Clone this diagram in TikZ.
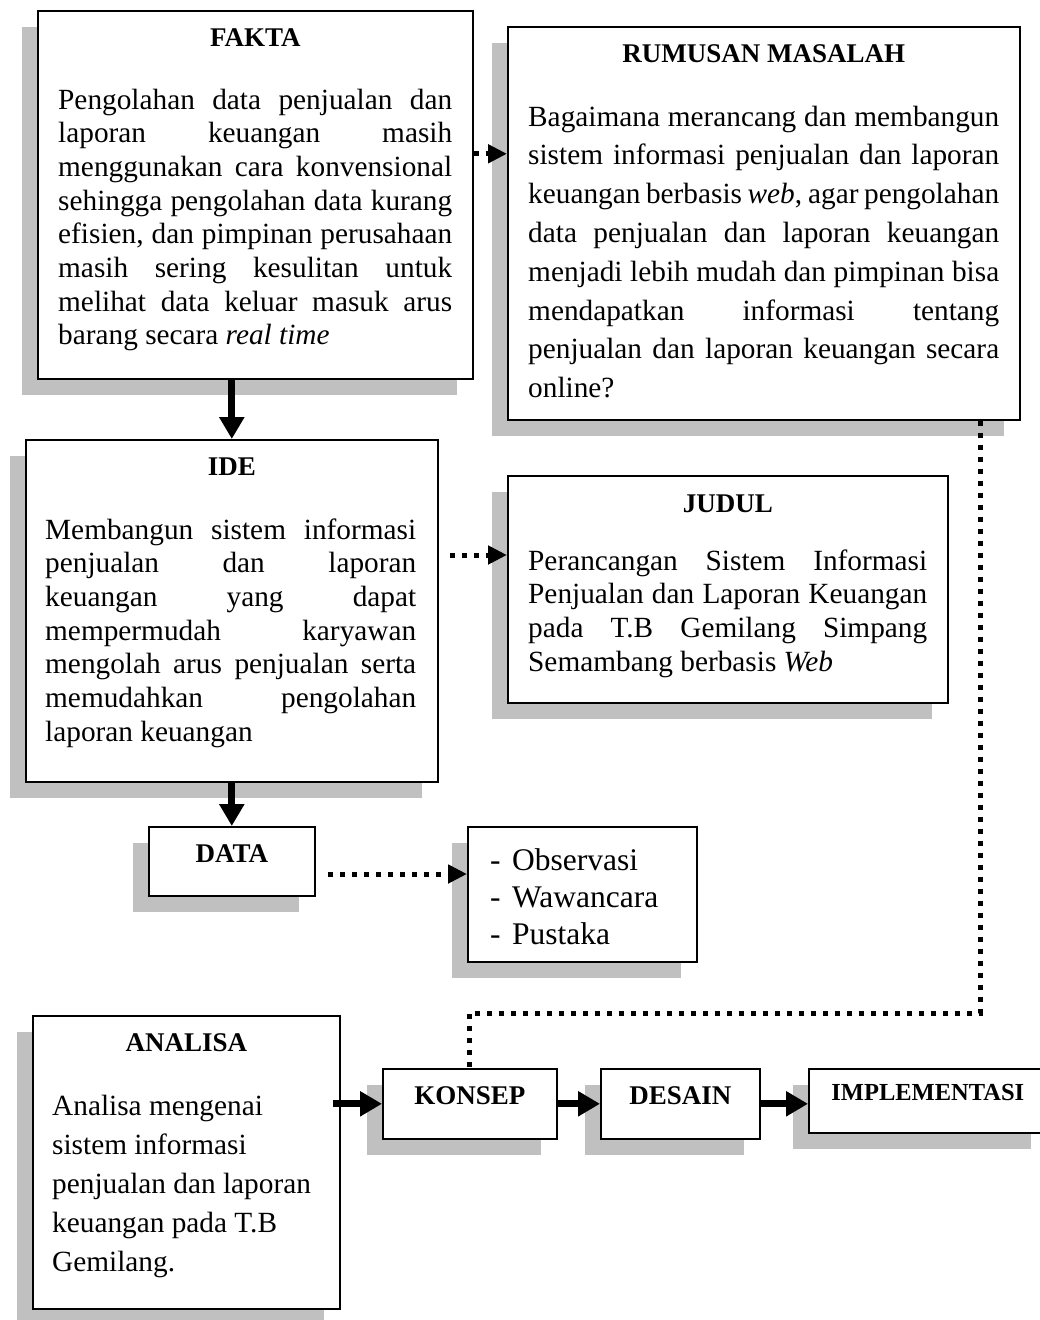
\documentclass[tikz,border=0pt]{standalone}
\usepackage{fontspec}
\setmainfont{Liberation Serif}
\usetikzlibrary{arrows.meta}
\usetikzlibrary{shadows}
\usetikzlibrary{positioning}
\definecolor{bayang}{HTML}{C0C0C0}
\hyphenpenalty=10000
\exhyphenpenalty=10000
\tolerance=10000
\tikzset{
  kotak/.style={draw, line width=1.6pt, fill=white, anchor=north west, inner sep=0pt,
    drop shadow={shadow xshift=-16pt, shadow yshift=-16pt, fill=bayang, opacity=1}},
  judulteks/.style={anchor=base, inner sep=0pt, font=\fontsize{27}{30}\selectfont\bfseries},
  isiteks/.style={anchor=base west, inner sep=0pt, align=justify,
    font=\fontsize{29.3}{33.7}\selectfont},
  panah/.style={line width=7pt, -{Triangle[length=22pt,width=24pt]}},
  panahtitik/.style={line width=5pt, dash pattern=on 5pt off 7pt, -{Triangle[length=19pt,width=18pt]}},
  garistitik/.style={line width=5pt, dash pattern=on 5pt off 7pt}
}

\begin{document}
\begin{tikzpicture}[x=1pt, y=-1pt]
  \useasboundingbox (0,0) rectangle (1040,1320);

  % kotak-kotak
  \node[kotak, minimum width=435pt, minimum height=368pt] (fakta) at (37,10) {};
  \node[kotak, minimum width=512pt, minimum height=393pt] (rumusan) at (507,26) {};
  \node[kotak, minimum width=412pt, minimum height=342pt] (ide) at (25,439) {};
  \node[kotak, minimum width=440pt, minimum height=227pt] (judul) at (507,475) {};
  \node[kotak, minimum width=166pt, minimum height=69pt] (data) at (148,826) {};
  \node[kotak, minimum width=229pt, minimum height=135pt] (metode) at (467,826) {};
  \node[kotak, minimum width=307pt, minimum height=293pt] (analisa) at (32,1015) {};
  \node[kotak, minimum width=174pt, minimum height=70pt] (konsep) at (382,1068) {};
  \node[kotak, minimum width=159pt, minimum height=70pt] (desain) at (600,1068) {};
  \node[kotak, minimum width=238pt, minimum height=64pt] (implementasi) at (808,1068) {};

  % judul kotak
  \node[judulteks] (fakta-j) at ([yshift=-36pt]fakta.north) {FAKTA};
  \node[judulteks] (rumusan-j) at ([yshift=-36pt]rumusan.north) {RUMUSAN MASALAH};
  \node[judulteks] (ide-j) at ([yshift=-36pt]ide.north) {IDE};
  \node[judulteks] (judul-j) at ([yshift=-37pt]judul.north) {JUDUL};
  \node[judulteks] (data-j) at ([yshift=-36pt]data.north) {DATA};
  \node[judulteks] (analisa-j) at ([yshift=-36pt]analisa.north) {ANALISA};
  \node[judulteks] (konsep-j) at ([yshift=-36pt]konsep.north) {KONSEP};
  \node[judulteks] (desain-j) at ([yshift=-36pt]desain.north) {DESAIN};
  \node[judulteks, font=\fontsize{24.5}{28}\selectfont\bfseries] (implementasi-j)
    at ([yshift=-32pt]implementasi.north) {IMPLEMENTASI};

  % isi kotak
  \node[isiteks, text width=394pt] (fakta-i) at ([xshift=21pt,yshift=-99pt]fakta.north west)
    {Pengolahan data penjualan dan\linebreak laporan keuangan masih\linebreak
     menggunakan cara konvensional\linebreak sehingga pengolahan data kurang\linebreak
     efisien, dan pimpinan perusahaan\linebreak masih sering kesulitan untuk\linebreak
     melihat data keluar masuk arus\linebreak barang secara \textit{real time}};
  \node[isiteks, text width=471pt, font=\fontsize{29.3}{38.8}\selectfont]
    (rumusan-i) at ([xshift=21pt,yshift=-100pt]rumusan.north west)
    {Bagaimana merancang dan membangun\linebreak sistem informasi penjualan dan laporan\linebreak
     keuangan berbasis \textit{web}, agar pengolahan\linebreak data penjualan dan laporan keuangan\linebreak
     menjadi lebih mudah dan pimpinan bisa\linebreak mendapatkan informasi tentang\linebreak
     penjualan dan laporan keuangan secara\linebreak online?};
  \node[isiteks, text width=371pt] (ide-i) at ([xshift=20pt,yshift=-100pt]ide.north west)
    {Membangun sistem informasi\linebreak penjualan dan laporan\linebreak
     keuangan yang dapat\linebreak mempermudah karyawan\linebreak
     mengolah arus penjualan serta\linebreak memudahkan pengolahan\linebreak laporan keuangan};
  \node[isiteks, text width=399pt] (judul-i) at ([xshift=21pt,yshift=-95pt]judul.north west)
    {Perancangan Sistem Informasi\linebreak Penjualan dan Laporan Keuangan\linebreak
     pada T.B Gemilang Simpang\linebreak Semambang berbasis \textit{Web}};
  \node[isiteks, text width=200pt, align=flush left, font=\fontsize{31.5}{37}\selectfont] (metode-i)
    at ([xshift=23pt,yshift=-44pt]metode.north west)
    {\makebox[22pt][l]{-}Observasi\\ \makebox[22pt][l]{-}Wawancara\\ \makebox[22pt][l]{-}Pustaka};
  \node[isiteks, text width=290pt, align=flush left, font=\fontsize{29.3}{39}\selectfont] (analisa-i)
    at ([xshift=20pt,yshift=-100pt]analisa.north west)
    {Analisa mengenai\\ sistem informasi\\ penjualan dan laporan\\ keuangan pada T.B\\ Gemilang.};

  % panah
  \draw[panah] (fakta.south -| ide.north) -- (ide.north);
  \draw[panah] (ide.south) -- (data.north);
  \draw[panah] ([xshift=-8pt]analisa.east |- konsep.west) -- (konsep.west);
  \draw[panah] (konsep.east) -- (desain.west);
  \draw[panah] (desain.east) -- (desain.east -| implementasi.west);

  % panah titik-titik
  \coordinate (f2r) at ([yshift=41pt]fakta.east);
  \draw[panahtitik] (f2r) -- (f2r -| rumusan.west);
  \coordinate (i2j) at (450,555);
  \draw[panahtitik] (i2j) -- (i2j -| judul.west);
  \coordinate (d2m) at (328,874);
  \draw[panahtitik] (d2m) -- (d2m -| metode.west);
  \coordinate (belok) at (980,1013);
  \draw[garistitik] (rumusan.south -| belok) -- (belok) -| (konsep.north);
\end{tikzpicture}
\end{document}
